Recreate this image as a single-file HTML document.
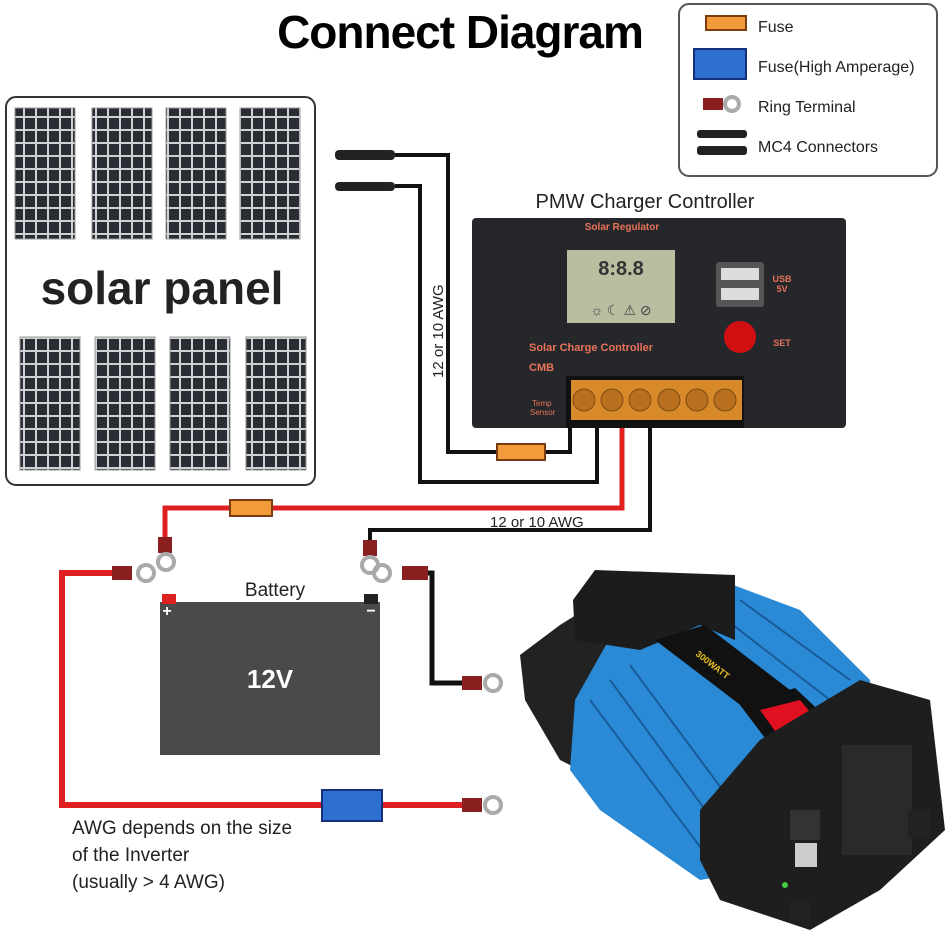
<!DOCTYPE html>
<html><head><meta charset="utf-8"><style>
html,body{margin:0;padding:0;background:#fff;}
svg{display:block;font-family:"Liberation Sans",sans-serif;}
</style></head><body>
<svg width="947" height="938" viewBox="0 0 947 938" xmlns="http://www.w3.org/2000/svg">
<defs>
<pattern id="cells" width="12" height="13" patternUnits="userSpaceOnUse">
<rect width="12" height="13" fill="#cfd2d4"/><rect x="1" y="1" width="10" height="11" fill="#2a2d33"/>
</pattern>
</defs>
<text x="460" y="48" text-anchor="middle" font-size="46" font-weight="bold" fill="#000" style="letter-spacing:-1px">Connect Diagram</text>
<rect x="679" y="4" width="258" height="172" rx="10" fill="#fff" stroke="#555" stroke-width="2"/>
<rect x="706" y="16" width="40" height="14" fill="#f39a3a" stroke="#7a3d10" stroke-width="2"/>
<rect x="694" y="49" width="52" height="30" fill="#2f6fd0" stroke="#15307a" stroke-width="2"/>
<rect x="703" y="98" width="20" height="12" fill="#8a1f1f"/><circle cx="732" cy="104" r="7" fill="none" stroke="#aaa" stroke-width="4"/>
<rect x="697" y="130" width="50" height="8" rx="3" fill="#222"/><rect x="697" y="146" width="50" height="9" rx="3" fill="#222"/>
<g font-size="16" fill="#222">
<text x="758" y="32">Fuse</text><text x="758" y="72">Fuse(High Amperage)</text>
<text x="758" y="112">Ring Terminal</text><text x="758" y="152">MC4 Connectors</text></g>
<rect x="6" y="97" width="309" height="388" rx="10" fill="#fff" stroke="#333" stroke-width="2"/>
<g fill="url(#cells)" stroke="#999" stroke-width="1">
<rect x="15" y="108" width="60" height="131"/><rect x="92" y="108" width="60" height="131"/>
<rect x="166" y="108" width="60" height="131"/><rect x="240" y="108" width="60" height="131"/>
<rect x="20" y="337" width="60" height="133"/><rect x="95" y="337" width="60" height="133"/>
<rect x="170" y="337" width="60" height="133"/><rect x="246" y="337" width="60" height="133"/>
</g>
<text x="162" y="304" text-anchor="middle" font-size="46" font-weight="bold" fill="#222">solar panel</text>
<rect x="335" y="150" width="60" height="10" rx="4" fill="#222"/>
<rect x="335" y="182" width="60" height="9" rx="4" fill="#222"/>
<g fill="none" stroke="#111" stroke-width="4">
<polyline points="395,155 448,155 448,452 570,452 570,428"/>
<polyline points="395,186 420,186 420,482 597,482 597,428"/>
</g>
<rect x="497" y="444" width="48" height="16" fill="#f39a3a" stroke="#7a3d10" stroke-width="2"/>
<text transform="translate(443,378) rotate(-90)" font-size="15" fill="#222">12 or 10 AWG</text>
<text x="645" y="208" text-anchor="middle" font-size="20" fill="#222">PMW Charger Controller</text>
<rect x="472" y="218" width="374" height="210" rx="4" fill="#26272a"/>
<text x="622" y="230" text-anchor="middle" font-size="10" font-weight="bold" fill="#e8735a">Solar Regulator</text>
<rect x="567" y="250" width="108" height="73" fill="#b8bfa0"/>
<text x="621" y="275" text-anchor="middle" font-size="20" font-weight="bold" fill="#333">8:8.8</text>
<text x="621" y="315" text-anchor="middle" font-size="14" fill="#444">☼ ☾ ⚠ ⊘</text>
<rect x="716" y="262" width="48" height="45" rx="3" fill="#555"/>
<rect x="721" y="268" width="38" height="12" fill="#ddd"/><rect x="721" y="288" width="38" height="12" fill="#ddd"/>
<circle cx="740" cy="337" r="16" fill="#d01010"/>
<text x="782" y="282" text-anchor="middle" font-size="9" font-weight="bold" fill="#e8735a">USB</text>
<text x="782" y="292" text-anchor="middle" font-size="9" font-weight="bold" fill="#e8735a">5V</text>
<text x="782" y="346" text-anchor="middle" font-size="9" font-weight="bold" fill="#e8735a">SET</text>
<text x="529" y="351" font-size="11" font-weight="bold" fill="#e8735a">Solar Charge Controller</text>
<text x="529" y="371" font-size="11" font-weight="bold" fill="#e8735a">CMB</text>
<text x="532" y="406" font-size="8" fill="#e8735a">Temp</text><text x="530" y="415" font-size="8" fill="#e8735a">Sensor</text>
<rect x="566" y="376" width="178" height="52" fill="#111"/>
<rect x="571" y="380" width="171" height="40" fill="#d88a2a"/>
<g fill="#b8701e" stroke="#7a4a10"><circle cx="584" cy="400" r="11"/><circle cx="612" cy="400" r="11"/><circle cx="640" cy="400" r="11"/><circle cx="669" cy="400" r="11"/><circle cx="697" cy="400" r="11"/><circle cx="725" cy="400" r="11"/></g>
<polyline points="622,428 622,508 165,508 165,545" fill="none" stroke="#e02020" stroke-width="5"/>
<polyline points="650,428 650,530 370,530 370,550" fill="none" stroke="#111" stroke-width="4"/>
<rect x="230" y="500" width="42" height="16" fill="#f39a3a" stroke="#7a3d10" stroke-width="2"/>
<text x="490" y="527" font-size="15" fill="#222">12 or 10 AWG</text>
<rect x="158" y="537" width="14" height="16" fill="#8a1f1f"/><circle cx="166" cy="562" r="8" fill="none" stroke="#aaa" stroke-width="4"/>
<rect x="363" y="540" width="14" height="16" fill="#8a1f1f"/><circle cx="370" cy="565" r="8" fill="none" stroke="#aaa" stroke-width="4"/>
<text x="275" y="596" text-anchor="middle" font-size="19" fill="#222">Battery</text>
<rect x="160" y="602" width="220" height="153" fill="#4a4a4a"/>
<rect x="162" y="594" width="14" height="10" fill="#d22"/><rect x="364" y="594" width="14" height="10" fill="#222"/>
<text x="167" y="616" text-anchor="middle" font-size="16" font-weight="bold" fill="#fff">+</text>
<text x="371" y="616" text-anchor="middle" font-size="16" font-weight="bold" fill="#fff">−</text>
<text x="270" y="688" text-anchor="middle" font-size="26" font-weight="bold" fill="#fff">12V</text>
<polyline points="112,573 62,573 62,805 470,805" fill="none" stroke="#e02020" stroke-width="6"/>
<rect x="112" y="566" width="20" height="14" fill="#8a1f1f"/><circle cx="146" cy="573" r="8" fill="none" stroke="#aaa" stroke-width="4"/>
<polyline points="425,573 432,573 432,683 465,683" fill="none" stroke="#111" stroke-width="5"/>
<circle cx="382" cy="573" r="8" fill="none" stroke="#aaa" stroke-width="4"/><rect x="402" y="566" width="26" height="14" fill="#8a1f1f"/>
<rect x="462" y="676" width="20" height="14" fill="#8a1f1f"/><circle cx="493" cy="683" r="8" fill="none" stroke="#aaa" stroke-width="4"/>
<rect x="322" y="790" width="60" height="31" fill="#2f6fd0" stroke="#15307a" stroke-width="2"/>
<rect x="462" y="798" width="20" height="14" fill="#8a1f1f"/><circle cx="493" cy="805" r="8" fill="none" stroke="#aaa" stroke-width="4"/>
<g font-size="19" fill="#222"><text x="72" y="834">AWG depends on the size</text><text x="72" y="861">of the Inverter</text><text x="72" y="888">(usually  &gt; 4 AWG)</text></g>
<polygon points="520,655 560,625 600,600 640,600 600,700 580,770 560,760 525,700" fill="#222"/>
<polygon points="575,700 620,620 720,580 800,610 870,680 880,770 760,870 700,880 600,810 570,770" fill="#2a8ad6"/>
<g stroke="#1a5a9a" stroke-width="2">
<line x1="590" y1="700" x2="710" y2="860"/><line x1="610" y1="680" x2="720" y2="830"/><line x1="630" y1="665" x2="730" y2="800"/><line x1="740" y1="600" x2="850" y2="680"/><line x1="720" y1="615" x2="830" y2="700"/></g>
<polygon points="573,600 595,570 735,575 735,640 700,625 640,650 575,640" fill="#1c1c1c"/>
<polygon points="655,640 705,625 790,690 760,720" fill="#111"/>
<text transform="translate(695,655) rotate(38)" font-size="9" fill="#e8c020" font-weight="bold">300WATT</text>
<polygon points="740,705 795,688 840,730 780,758" fill="#111"/>
<polygon points="760,710 800,700 825,730 785,745" fill="#e01020"/>
<polygon points="700,810 760,740 860,680 930,700 945,830 880,890 810,930 720,900 700,860" fill="#1e1e1e"/>
<rect x="842" y="745" width="70" height="110" fill="#2a2a2a"/>
<rect x="790" y="810" width="30" height="30" fill="#333"/>
<rect x="795" y="843" width="22" height="24" fill="#ccc"/>
<circle cx="785" cy="885" r="3" fill="#4c4"/>
<rect x="790" y="900" width="20" height="20" fill="#222"/><rect x="908" y="810" width="22" height="28" fill="#222"/>
</svg>
</body></html>
